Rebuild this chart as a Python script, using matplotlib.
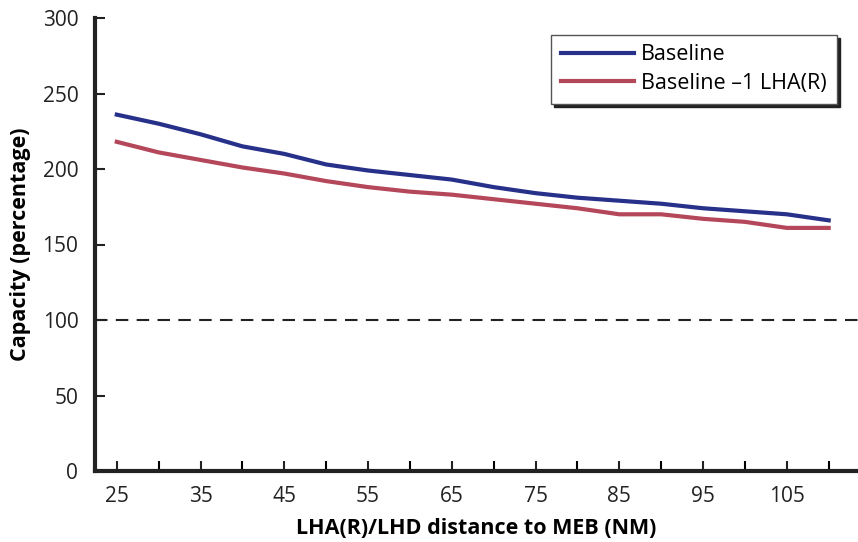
import matplotlib.pyplot as plt

plt.rcParams['font.family'] = ['Open Sans', 'DejaVu Sans']

# distances (NM) and capacities (%)
distance = [25, 30, 35, 40, 45, 50, 55, 60, 65, 70, 75, 80, 85, 90, 95, 100, 105, 110]
baseline = [236, 230, 223, 215, 210, 203, 199, 196, 193, 188, 184, 181, 179, 177, 174, 172, 170, 166]
baseline_minus1 = [218, 211, 206, 201, 197, 192, 188, 185, 183, 180, 177, 174, 170, 170, 167, 165, 161, 161]
xtick_labels = [25, 35, 45, 55, 65, 75, 85, 95, 105]

fig = plt.figure(figsize=(8.58, 5.42), dpi=100)
ax = fig.add_axes([95/858, 71/542, 763/858, 453/542])

ax.plot(distance, baseline, color='#27318a', lw=3, label='Baseline')
ax.plot(distance, baseline_minus1, color='#b5475a', lw=3, label='Baseline \u20131 LHA(R)')
ax.axhline(100, color='#222222', lw=1.5, dashes=(6, 4))

ax.set_xlim(22.4, 113.5)
ax.set_ylim(0, 300)
ax.set_yticks(range(0, 301, 50))
ax.set_xticks(range(25, 111, 5), minor=True)
ax.set_xticks(xtick_labels)
ax.tick_params(direction='in', length=7, width=1.5, labelsize=15, colors='#222222')
ax.tick_params(which='minor', direction='in', length=7, width=1.5)
ax.tick_params(axis='x', pad=11)
ax.tick_params(axis='y', pad=12)

for side in ['top', 'right']:
    ax.spines[side].set_visible(False)
for side in ['left', 'bottom']:
    ax.spines[side].set_linewidth(3)
    ax.spines[side].set_color('#222222')

ax.set_xlabel('LHA(R)/LHD distance to MEB (NM)', fontsize=15.5, fontweight='bold', labelpad=8)
ax.set_ylabel('Capacity (percentage)', fontsize=15.5, fontweight='bold', labelpad=8)

leg = ax.legend(loc='upper right', bbox_to_anchor=(0.972, 0.963), fontsize=15.5,
                frameon=True, fancybox=False,
                shadow={'color': '#222222', 'alpha': 1.0, 'ox': 2.5, 'oy': -2.5},
                borderpad=0.45, handlelength=3.4, handletextpad=0.35, labelspacing=0.35,
                borderaxespad=0)
leg.get_frame().set_edgecolor('#555555')
leg.get_frame().set_linewidth(1)

fig.savefig('out.png', dpi=100)
